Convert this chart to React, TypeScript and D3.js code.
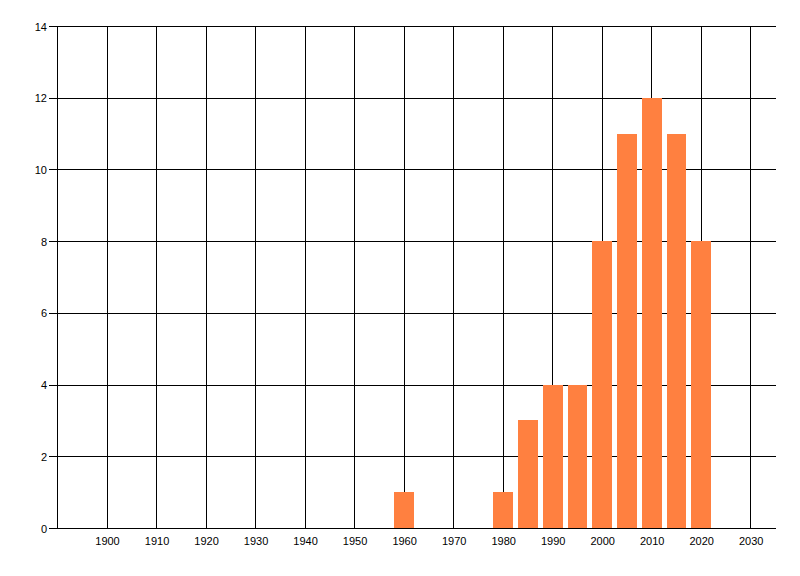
import * as d3 from 'd3';
import React, { useEffect, useRef } from 'react';

const years: number[] = [1960, 1980, 1985, 1990, 1995, 2000, 2005, 2010, 2015, 2020];
const counts: number[] = [1, 1, 3, 4, 4, 8, 11, 12, 11, 8];
const xTicks: number[] = [1900, 1910, 1920, 1930, 1940, 1950, 1960, 1970, 1980, 1990, 2000, 2010, 2020, 2030];
const yTicks: number[] = [0, 2, 4, 6, 8, 10, 12, 14];

const width = 800;
const height = 576;
const barYears = 4;
const font = '"Liberation Sans", Arial, sans-serif';

const App: React.FC = () => {
  const ref = useRef<SVGSVGElement>(null);

  useEffect(() => {
    if (!ref.current) {
      return;
    }
    const svg = d3.select(ref.current);
    svg.selectAll('*').remove();

    const x = d3.scaleLinear().domain([1890, 2035]).range([57.5, 775.5]);
    const y = d3.scaleLinear().domain([0, 14]).range([528.5, 26.5]);
    const px = (v: number) => Math.floor(v) + 0.5;

    const grid = svg.append('g').attr('stroke', '#000').attr('stroke-width', 1).attr('shape-rendering', 'crispEdges');

    // horizontal grid + y ticks
    grid
      .selectAll('line.h')
      .data(yTicks)
      .join('line')
      .attr('class', 'h')
      .attr('x1', 49)
      .attr('x2', x.range()[1])
      .attr('y1', (d) => px(y(d)))
      .attr('y2', (d) => px(y(d)));

    // vertical grid
    grid
      .selectAll('line.v')
      .data(xTicks)
      .join('line')
      .attr('class', 'v')
      .attr('x1', (d) => px(x(d)))
      .attr('x2', (d) => px(x(d)))
      .attr('y1', y(14))
      .attr('y2', y(0));

    // left axis line
    grid
      .append('line')
      .attr('x1', x.range()[0])
      .attr('x2', x.range()[0])
      .attr('y1', y(14))
      .attr('y2', y(0));

    // bars
    svg
      .append('g')
      .selectAll('rect')
      .data(years)
      .join('rect')
      .attr('x', (d) => Math.round(x(d - barYears / 2)))
      .attr('width', (d) => Math.round(x(d + barYears / 2)) - Math.round(x(d - barYears / 2)))
      .attr('y', (d, i) => Math.floor(y(counts[i])))
      .attr('height', (d, i) => Math.floor(y(0)) - Math.floor(y(counts[i])))
      .attr('fill', '#ff8040')
      .attr('shape-rendering', 'crispEdges');

    // bottom axis line on top of bars
    svg
      .append('line')
      .attr('x1', x.range()[0])
      .attr('x2', x.range()[1])
      .attr('y1', px(y(0)))
      .attr('y2', px(y(0)))
      .attr('stroke', '#000')
      .attr('shape-rendering', 'crispEdges');

    svg
      .append('g')
      .selectAll('text')
      .data(yTicks)
      .join('text')
      .attr('x', 47)
      .attr('y', (d) => y(d) + 4)
      .attr('text-anchor', 'end')
      .attr('font-family', font)
      .attr('font-size', 11)
      .attr('fill', '#000')
      .text((d) => d);

    svg
      .append('g')
      .selectAll('text')
      .data(xTicks)
      .join('text')
      .attr('x', (d) => x(d) + 0.5)
      .attr('y', 545)
      .attr('text-anchor', 'middle')
      .attr('font-family', font)
      .attr('font-size', 11)
      .attr('fill', '#000')
      .text((d) => d);
  }, []);

  return (
    <svg
      ref={ref}
      width={width}
      height={height}
      viewBox={`0 0 ${width} ${height}`}
      style={{ position: 'absolute', left: 0, top: 0, background: '#fff' }}
    ></svg>
  );
};

export default App;
